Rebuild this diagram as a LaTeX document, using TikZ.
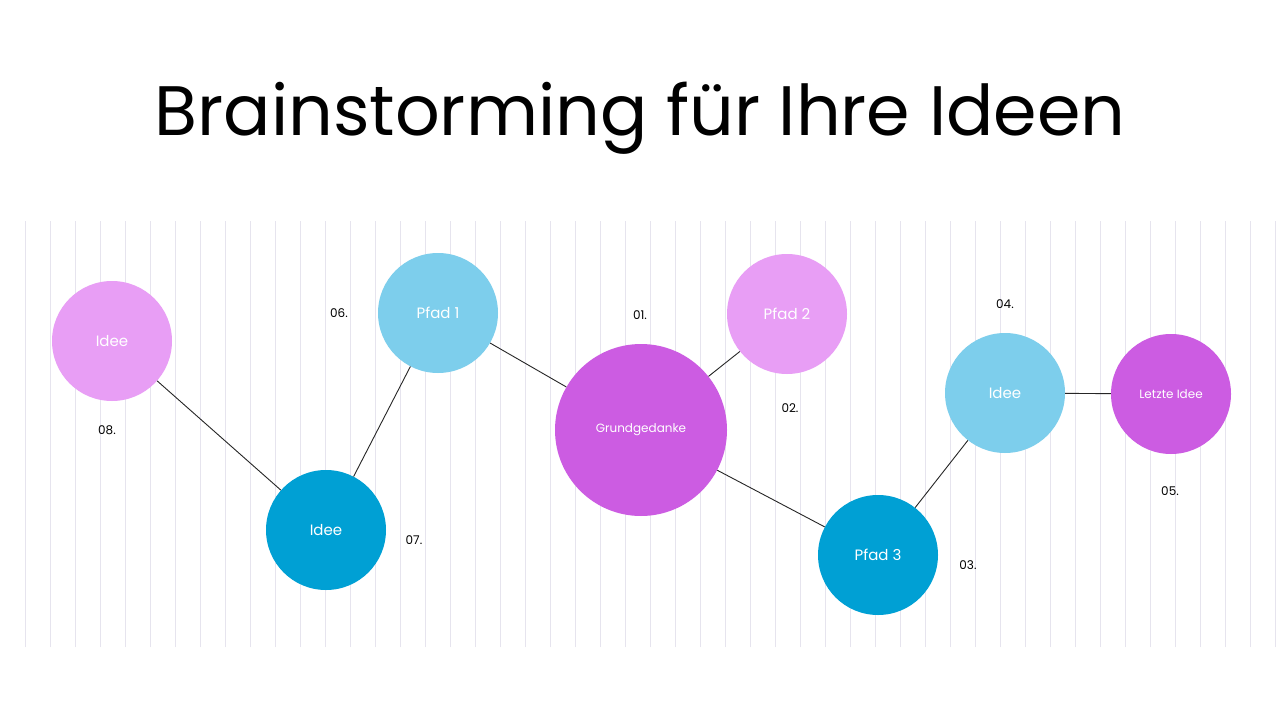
\documentclass[tikz,border=0pt]{standalone}
\usepackage{fontspec}
\setmainfont{Poppins}
\definecolor{pinkc}{HTML}{E89EF5}
\definecolor{lblue}{HTML}{7DCEEC}
\definecolor{purp}{HTML}{CC5CE2}
\definecolor{dblue}{HTML}{00A0D4}
\definecolor{gridc}{HTML}{E6E4EE}
\begin{document}
\begin{tikzpicture}[x=1pt,y=-1pt,
  bub/.style={circle,minimum size=120pt,inner sep=0pt,text=white,font=\fontsize{15}{18}\selectfont},
  num/.style={font=\fontsize{12}{14}\selectfont,text=black},
  link/.style={draw=black!85,line width=0.9pt}]
\useasboundingbox (0,0) rectangle (1280,720);
\fill[white] (0,0) rectangle (1280,720);
\draw[gridc,line width=0.7pt,step=25] (3,221) grid (1280,647);
\node[font=\fontsize{70}{80}\selectfont] (title) at (640,118) {Brainstorming für Ihre Ideen};
\node[bub,fill=pinkc] (i8) at (112,341) {Idee};
\node[bub,fill=lblue] (p1) at (438,313) {Pfad 1};
\node[bub,fill=purp,minimum size=172pt,font=\fontsize{12}{14}\selectfont] (g) at (641,430) {Grundgedanke};
\node[bub,fill=pinkc] (p2) at (787,314) {Pfad 2};
\node[bub,fill=lblue] (i4) at (1005,393) {Idee};
\node[bub,fill=purp,font=\fontsize{12}{14}\selectfont] (li) at (1171,394) {Letzte Idee};
\node[bub,fill=dblue] (p3) at (878,555) {Pfad 3};
\node[bub,fill=dblue] (i7) at (326,530) {Idee};
\begin{scope}[on background layer/.style={}]
\end{scope}
\path[link] (i8) -- (i7);
\path[link] (i7) -- (p1);
\path[link] (p1) -- (g);
\path[link] (g) -- (p2);
\path[link] (g) -- (p3);
\path[link] (p3) -- (i4);
\path[link] (i4) -- (li);
\node[num] (n6) at (339,313) {06.};
\node[num] (n1) at (640,315) {01.};
\node[num] (n4) at (1005,304) {04.};
\node[num] (n8) at (107,430) {08.};
\node[num] (n2) at (790,408) {02.};
\node[num] (n7) at (414,540) {07.};
\node[num] (n5) at (1170,491) {05.};
\node[num] (n3) at (968,565) {03.};
\end{tikzpicture}
\end{document}
